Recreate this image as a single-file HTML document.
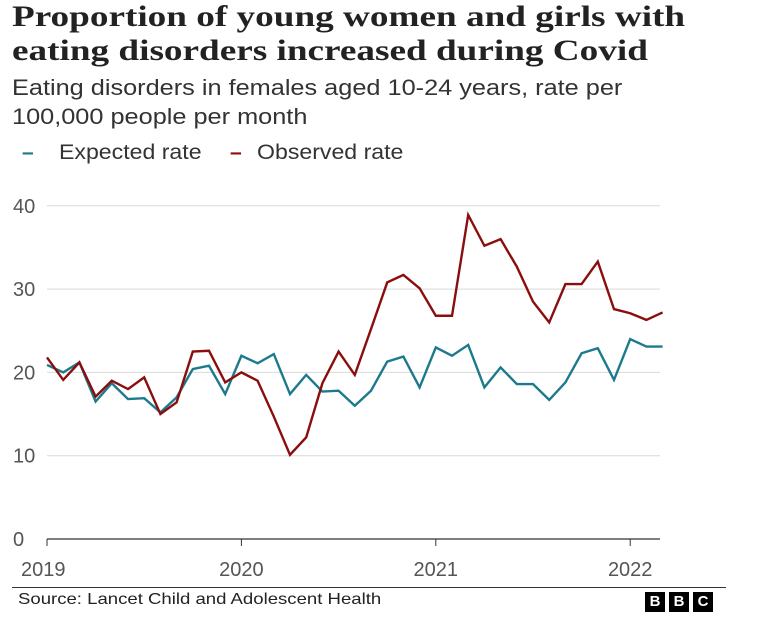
<!DOCTYPE html>
<html><head><meta charset="utf-8"><style>
body{margin:0;width:766px;height:628px;background:#fff;font-family:"Liberation Sans",sans-serif;overflow:hidden;position:relative}
.t{position:absolute;left:12px;top:0px;font-family:"Liberation Serif",serif;font-weight:bold;font-size:30px;line-height:34px;color:#222;transform:scaleX(1.24);transform-origin:0 0;white-space:nowrap}
.s{position:absolute;left:12px;top:73px;font-size:22px;line-height:29px;color:#333;transform:scaleX(1.15);transform-origin:0 0;white-space:nowrap}
.lg{position:absolute;top:141px;font-size:21px;color:#333;white-space:nowrap}
.src{position:absolute;left:18px;top:591px;font-size:16px;color:#222;transform:scaleX(1.16);transform-origin:0 0;white-space:nowrap}
.bbc{position:absolute;top:592px;width:20px;height:20px;background:#000;color:#fff;font-weight:bold;font-size:15px;line-height:20px;text-align:center}
</style></head><body>
<div class="t">Proportion of young women and girls with<br>eating disorders increased during Covid</div>
<div class="s">Eating disorders in females aged 10-24 years, rate per<br>100,000 people per month</div>
<div class="lg" style="left:22px"><span style="color:#1d7a8c;font-weight:bold">–</span><span style="position:absolute;left:37px;transform:scaleX(1.1);transform-origin:0 0">Expected rate</span></div>
<div class="lg" style="left:230px"><span style="color:#8b0e0e;font-weight:bold">–</span><span style="position:absolute;left:27px;transform:scaleX(1.1);transform-origin:0 0">Observed rate</span></div>
<svg id="c" width="766" height="628" style="position:absolute;left:0;top:0"></svg>
<div style="position:absolute;left:12px;top:587px;width:714px;height:1px;background:#333"></div>
<div class="src">Source: Lancet Child and Adolescent Health</div>
<div class="bbc" style="left:645px">B</div>
<div class="bbc" style="left:669px">B</div>
<div class="bbc" style="left:693px">C</div>
<script>
const yTicks=[0,10,20,30,40];
const xTickLabels=["2019","2020","2021","2022"];
const xTickIdx=[0,12,24,36];
const expected=[20.9,20.0,21.2,16.5,18.7,16.8,16.9,15.2,17.0,20.4,20.8,17.4,22.0,21.1,22.2,17.4,19.7,17.7,17.8,16.0,17.8,21.3,21.9,18.2,23.0,22.0,23.3,18.2,20.6,18.6,18.6,16.7,18.8,22.3,22.9,19.1,24.0,23.1,23.1];
const observed=[21.8,19.1,21.2,17.1,19.0,18.0,19.4,15.0,16.4,22.5,22.6,18.8,20.0,19.0,14.7,10.1,12.2,18.7,22.5,19.7,25.2,30.8,31.7,30.1,26.8,26.8,38.9,35.2,36.0,32.7,28.5,26.0,30.6,30.6,33.3,27.6,27.1,26.3,27.2];
const svg=document.getElementById('c');const NS='http://www.w3.org/2000/svg';
const x=i=>47+i*16.2;const y=v=>539-v*8.33;
function mk(t,a,p){const e=document.createElementNS(NS,t);for(const k in a)e.setAttribute(k,a[k]);(p||svg).appendChild(e);return e;}
yTicks.forEach(v=>{
 const l=mk('line',{x1:47,x2:660,y1:y(v),y2:y(v),stroke:v?'#d9d9d9':'#333','stroke-width':v?1:1.3});
 
 
 const t=mk('text',{x:13,y:y(v)+7,'font-size':20,fill:'#555'});t.textContent=v;
 
 
});
xTickIdx.forEach((idx,k)=>{
 const l=mk('line',{x1:x(idx),x2:x(idx),y1:539,y2:546,stroke:'#333'});
 
 
 const t=mk('text',{x:x(idx),y:576,'font-size':20,fill:'#555','text-anchor':k==0?'start':'middle'});
 if(k==0)t.setAttribute('x',x(idx)-26);
 t.textContent=xTickLabels[k];
 
 
});
function line(d,c,n){const p=mk('polyline',{points:d.map((v,i)=>x(i)+','+y(v)).join(' '),fill:'none',stroke:c,'stroke-width':2.4,'stroke-linejoin':'miter'});
 
 }
line(expected,'#1d7a8c','expected-rate-line');
line(observed,'#8b0e0e','observed-rate-line');
</script>
</body></html>
